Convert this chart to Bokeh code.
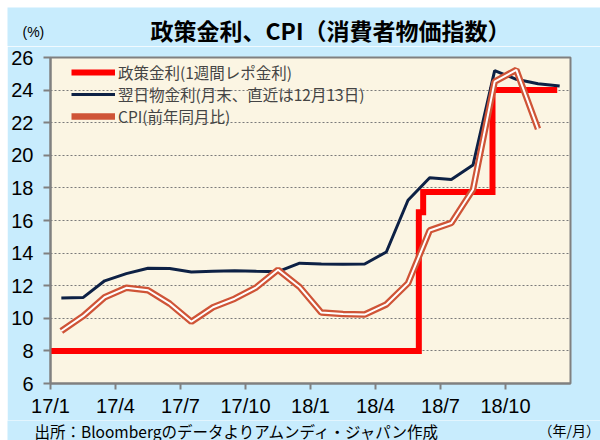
import calendar
from bokeh.plotting import figure
from bokeh.layouts import row
from bokeh.models import FixedTicker, Legend, LegendItem, Range1d, Spacer
from bokeh.core.properties import value
from bokeh.embed import file_html
from bokeh.resources import INLINE

# ---------------- data ----------------
months = ["17/1", "17/2", "17/3", "17/4", "17/5", "17/6", "17/7", "17/8", "17/9", "17/10", "17/11", "17/12",
          "18/1", "18/2", "18/3", "18/4", "18/5", "18/6", "18/7", "18/8", "18/9", "18/10", "18/11", "18/12"]
xtick_months = ["17/1", "17/4", "17/7", "17/10", "18/1", "18/4", "18/7", "18/10"]
yticks = [6, 8, 10, 12, 14, 16, 18, 20, 22, 24, 26]

overnight = [11.25, 11.27, 12.30, 12.74, 13.07, 13.05, 12.84, 12.88, 12.92, 12.88, 12.86, 13.38,
             13.33, 13.31, 13.33, 14.07, 17.24, 18.62, 18.52, 19.40, 25.20, 24.66, 24.39, 24.25]
cpi = [9.22, 10.13, 11.29, 11.87, 11.72, 10.90, 9.79, 10.68, 11.20, 11.90, 12.98, 11.92,
       10.35, 10.26, 10.23, 10.85, 12.15, 15.39, 15.85, 17.90, 24.52, 25.24, 21.62]
policy_dates = [(2017, 1, 1), (2018, 6, 1), (2018, 6, 7), (2018, 9, 13), (2018, 12, 13)]
policy_rate = [8.0, 16.5, 17.75, 24.0, 24.0]

labels = ["政策金利(1週間レポ金利)", "翌日物金利(月末、直近は12月13日)", "CPI(前年同月比)"]
title_text = "政策金利、CPI（消費者物価指数）"
unit_text = "(%)"
source_text = "出所：Bloombergのデータよりアムンディ・ジャパン作成"
xunit_text = "（年/月）"

# ---------------- positions ----------------
x_month = [i + 0.5 for i in range(len(months))]
x_cpi = x_month[:len(cpi)]


def date_pos(y, m, d):
    idx = (y - 2017) * 12 + (m - 1)
    return idx + (d - 1) / calendar.monthrange(y, m)[1]


x_policy = [date_pos(*d) for d in policy_dates]
tick_pos = [months.index(m) for m in xtick_months]

BLUE = "#C8ECFD"
CREAM = "#FBF5E3"
GRAY = "#808080"
MARGIN = 7
W = 593
TOP_H = 39
MAIN_H = 374
BOT_H = 20


def text_strip(h):
    f = figure(width=W, height=h, output_backend="svg", toolbar_location=None,
               x_range=Range1d(0, W), y_range=Range1d(h, 0),
               x_axis_type=None, y_axis_type=None, min_border=0)
    f.background_fill_color = BLUE
    f.border_fill_color = BLUE
    f.outline_line_color = None
    f.grid.visible = False
    return f


# ---- top strip: title and unit ----
top = text_strip(TOP_H)
top.text(x=[143], y=[22], text=[title_text], text_align="left", text_baseline="middle",
         text_font=value("Noto Sans CJK JP"), text_font_style="bold", text_font_size="23px",
         text_color="black")
top.text(x=[15], y=[24], text=[unit_text], text_align="left", text_baseline="middle",
         text_font=value("Liberation Sans"), text_font_size="14px", text_color="black")

# ---- main chart ----
p = figure(frame_width=520, frame_height=326, output_backend="svg", toolbar_location=None,
           x_range=Range1d(0, 24), y_range=Range1d(6, 26),
           min_border_left=43, min_border_right=30, min_border_top=11, min_border_bottom=37)
p.background_fill_color = CREAM
p.border_fill_color = BLUE
p.outline_line_color = GRAY
p.outline_line_width = 2

p.xaxis.ticker = FixedTicker(ticks=tick_pos)
p.xaxis.major_label_overrides = {t: lab for t, lab in zip(tick_pos, xtick_months)}
p.yaxis.ticker = FixedTicker(ticks=yticks)
for ax in (p.xaxis, p.yaxis):
    ax.axis_line_color = GRAY
    ax.axis_line_width = 2
    ax.major_tick_line_color = GRAY
    ax.major_tick_line_width = 2
    ax.major_tick_in = 0
    ax.minor_tick_out = 0
    ax.minor_tick_line_color = None
    ax.major_label_text_font = "Liberation Sans"
    ax.major_label_text_font_size = "20px"
    ax.major_label_text_color = "black"
p.yaxis.major_tick_out = 7
p.yaxis.major_label_standoff = 10
p.xaxis.major_tick_out = 6
p.xaxis.major_label_standoff = 5

p.xgrid.visible = False
p.ygrid.ticker = FixedTicker(ticks=yticks[1:-1])
p.ygrid.grid_line_color = "#7A7A7A"
p.ygrid.grid_line_dash = "2 2"
p.ygrid.grid_line_width = 1

r_pol = p.step(x_policy, policy_rate, mode="after", line_color="#FF0000", line_width=6, line_join="miter")
r_on = p.line(x_month, overnight, line_color="#0D2145", line_width=3)
r_cpi = p.line(x_cpi, cpi, line_color="#CF5437", line_width=6.5)
p.line(x_cpi, cpi, line_color="white", line_width=2)

legend = Legend(items=[LegendItem(label=labels[0], renderers=[r_pol]),
                       LegendItem(label=labels[1], renderers=[r_on]),
                       LegendItem(label=labels[2], renderers=[r_cpi])],
                location=(21, 256), padding=10, spacing=0, glyph_width=44, glyph_height=22,
                label_height=22, label_standoff=3, label_text_font="Noto Sans CJK JP",
                label_text_font_size="15.5px", background_fill_alpha=0, border_line_color=None)
p.add_layout(legend)

# ---- bottom strip: source and x unit ----
bot = text_strip(BOT_H)
bot.text(x=[27], y=[10], text=[source_text], text_align="left", text_baseline="middle",
         text_font=value("Noto Sans CJK JP"), text_font_size="15.5px", text_color="black")
bot.text(x=[531], y=[9], text=[xunit_text], text_align="left", text_baseline="middle",
         text_font=value("Noto Sans CJK JP"), text_font_size="14px", text_color="black")

# separate roots, so that the text strips keep their own full-width frames
roots = [Spacer(width=600, height=MARGIN),
         row(Spacer(width=MARGIN, height=TOP_H), top, spacing=0),
         row(Spacer(width=MARGIN, height=MAIN_H), p, spacing=0),
         row(Spacer(width=MARGIN, height=BOT_H), bot, spacing=0)]
open("out.html", "w").write(file_html(roots, INLINE))
